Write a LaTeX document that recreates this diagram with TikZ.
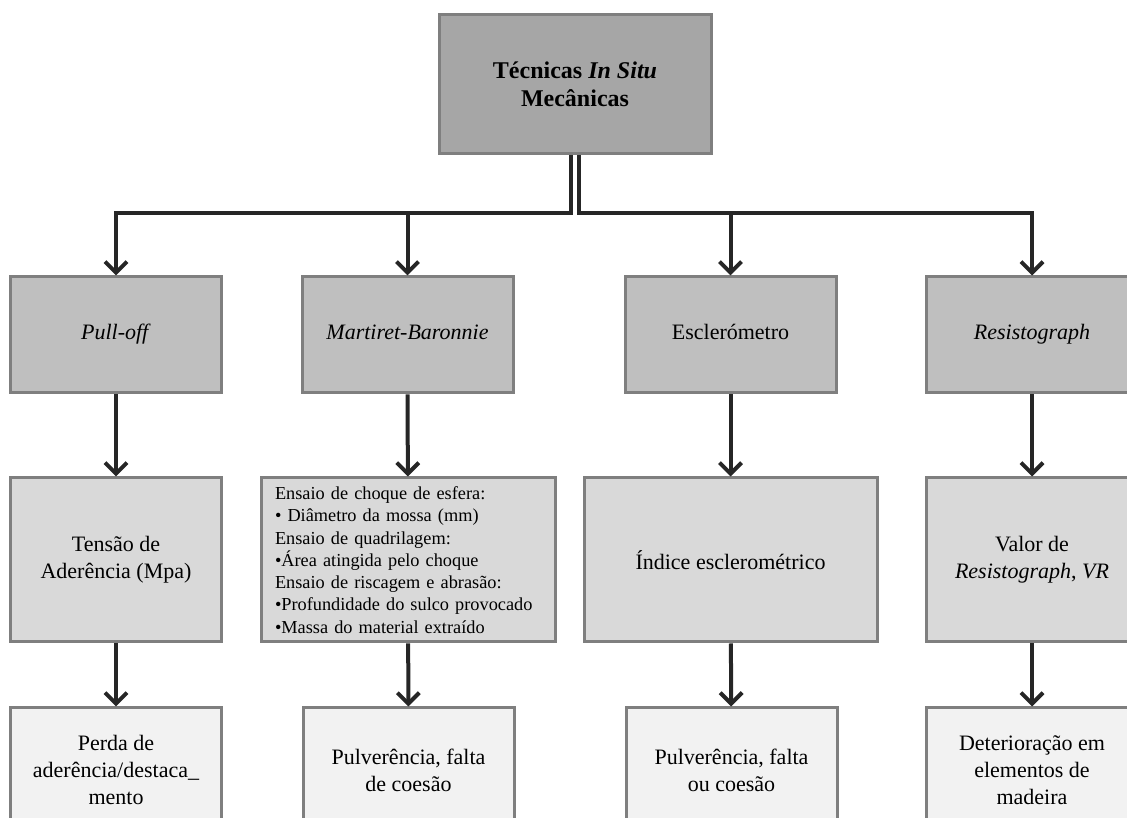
\documentclass[tikz,border=0pt]{standalone}
\usepackage{fontspec}
\setmainfont{Liberation Serif}
\usetikzlibrary{arrows.meta}
\definecolor{boxline}{HTML}{7F7F7F}
\definecolor{arrline}{HTML}{262626}
\definecolor{filla}{HTML}{A6A6A6}
\definecolor{fillb}{HTML}{BFBFBF}
\definecolor{fillc}{HTML}{D9D9D9}
\definecolor{filld}{HTML}{F2F2F2}

\begin{document}
\begin{tikzpicture}[x=1pt,y=1pt,
    box/.style={draw=boxline,line width=3pt,align=center,inner sep=0pt,
      font=\fontsize{22}{27}\selectfont},
    boxa/.style={box,fill=filla,minimum width=272,minimum height=139,
      font=\fontsize{24}{28}\selectfont\bfseries},
    boxb/.style={box,fill=fillb,minimum width=211,minimum height=116,
      text height=15pt,text depth=5pt},
    boxc/.style={box,fill=fillc,minimum width=211,minimum height=164},
    boxcw/.style={boxc,minimum width=293},
    boxd/.style={box,fill=filld,minimum width=211,minimum height=124},
    arr/.style={draw=arrline,line width=4pt,-{Straight Barb[length=11pt,width=22pt]}}]
    \useasboundingbox (0,0) rectangle (1127,818);
    % top
    \node[boxa] (aa) at (575,733.5) {T\'ecnicas \textit{In Situ}\\Mec\^anicas};
    % techniques
    \node[boxb] (ba) at (116,483) {\textit{Pull-off}};
    \node[boxb] (bb) at (407.5,483) {\textit{Martiret-Baronnie}};
    \node[boxb] (bc) at (730.5,483) {Escler\'ometro};
    \node[boxb] (bd) at (1032,483) {\textit{Resistograph}};
    % measured values
    \node[boxc] (ca) at (116,258) {Tens\~ao de\\Ader\^encia (Mpa)};
    \node[boxcw,align=left,text width=266,inner xsep=14,
      font=\fontsize{18.3}{22.3}\selectfont] (cb) at (408,258)
      {Ensaio de choque de esfera:\\
       \textbullet{} Di\^ametro da mossa (mm)\\
       Ensaio de quadrilagem:\\
       \textbullet\'Area atingida pelo choque\\
       Ensaio de riscagem e abras\~ao:\\
       \textbullet Profundidade do sulco provocado\\
       \textbullet Massa do material extra\'ido};
    \node[boxcw] (cc) at (730.5,258) {\'Indice esclerom\'etrico};
    \node[boxc] (cd) at (1032,258) {Valor de\\\textit{Resistograph}, \textit{VR}};
    % anomalies
    \node[boxd] (da) at (116,48) {Perda de\\ader\^encia/destaca\_\\mento};
    \node[boxd] (db) at (408.5,48) {Pulver\^encia, falta\\de coes\~ao};
    \node[boxd] (dc) at (731.5,48) {Pulver\^encia, falta\\ou coes\~ao};
    \node[boxd] (dd) at (1032,48) {Deteriora\c{c}\~ao em\\elementos de\\madeira};
    \coordinate (bus) at (575,605);
    \draw[arr] ([xshift=-4pt]aa.south) -- ([xshift=-4pt]aa.south |- bus) -| (ba.north);
    \draw[arr] ([xshift=4pt]aa.south) -- ([xshift=4pt]aa.south |- bus) -| (bd.north);
    \draw[arr] (bb.north |- bus) -- (bb.north);
    \draw[arr] (bc.north |- bus) -- (bc.north);
    \draw[arr] (ba) -- (ca);
    \draw[arr] (bb) -- (cb);
    \draw[arr] (bc) -- (cc);
    \draw[arr] (bd) -- (cd);
    \draw[arr] (ca) -- (da);
    \draw[arr] (cb) -- (db);
    \draw[arr] (cc) -- (dc);
    \draw[arr] (cd) -- (dd);
\end{tikzpicture}
\end{document}
